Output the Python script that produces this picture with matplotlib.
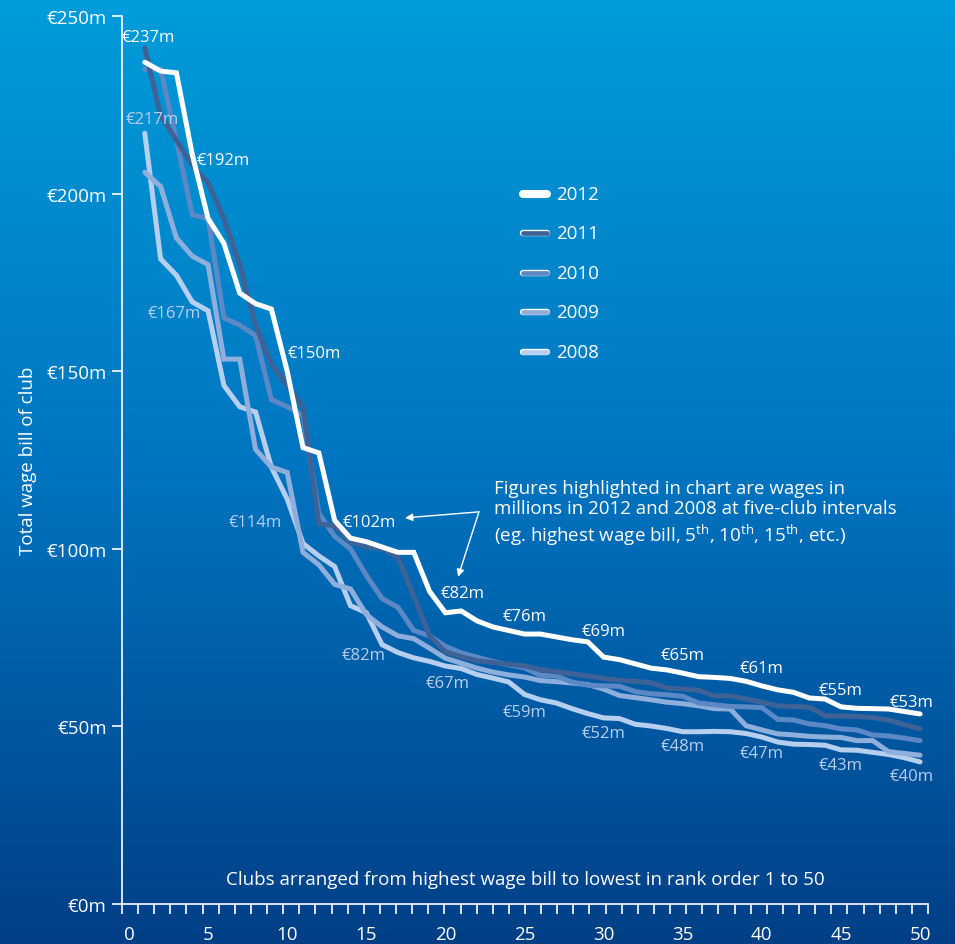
import numpy as np
import matplotlib
matplotlib.use("Agg")
import matplotlib.pyplot as plt
import matplotlib.patheffects as pe
from matplotlib.colors import LinearSegmentedColormap

plt.rcParams['font.family'] = ['Open Sans', 'DejaVu Sans']
plt.rcParams['mathtext.fontset'] = 'custom'
plt.rcParams['mathtext.rm'] = 'Open Sans'

# club rank 1..50, total wage bill in EUR millions
ranks = np.arange(1, 51)
w2012 = [237, 234.5, 234, 211, 193, 186, 172, 169, 167.5, 150,
         128.5, 127, 108, 103, 102, 100.5, 99, 99, 88, 82,
         82.5, 79.7, 78, 77, 76, 76, 75.2, 74.4, 73.8, 69.5,
         68.8, 67.6, 66.4, 65.9, 65, 64, 63.8, 63.5, 62.7, 61.4,
         60.3, 59.6, 58, 57.7, 55.5, 55.1, 55, 54.9, 54.2, 53.5]
w2011 = [241, 222, 215, 208, 203, 193, 180, 163, 152, 146,
         140, 107, 106.5, 102, 100.5, 100, 97.7, 86.7, 75.5, 71,
         69.6, 68.5, 68, 67.5, 67, 66, 65.4, 64.8, 64.2, 63.5,
         63, 62.7, 62.3, 60.8, 60.5, 60.2, 58.6, 58.6, 57.7, 56.8,
         55.8, 55.6, 55.4, 53, 52.9, 52.8, 52.5, 51.8, 50.5, 49.3]
w2010 = [235, 235, 215, 194, 193, 165, 163, 160, 142, 140,
         137.5, 110, 103.5, 100, 92.5, 86, 83.5, 77, 75.5, 72.5,
         70.7, 69.5, 68.3, 67.3, 66.5, 64.4, 64.2, 62.5, 61.6, 61.4,
         61.3, 59.8, 59.2, 58.9, 58.5, 56.6, 56.1, 55.6, 55.5, 55.3,
         52, 51.8, 50.7, 50.2, 49.3, 49, 47.6, 47.3, 46.7, 46]
w2009 = [206, 202, 187.5, 182.4, 180, 153.4, 153.4, 128, 123, 121.5,
         99, 95.5, 90, 88.7, 81.5, 78, 75.5, 74.7, 72, 69.2,
         67.8, 66.4, 65.3, 64.5, 63.9, 62.9, 62.6, 62.2, 61.8, 60.5,
         58.7, 58.1, 57.5, 56.8, 56.4, 55.8, 55, 54.9, 50.2, 49,
         47.9, 47.6, 47.2, 47, 46.9, 46, 46, 42.9, 42.4, 41.9]
w2008 = [217, 181.6, 177, 169.5, 167, 146, 140, 138.5, 123, 114,
         101.5, 98, 95, 84, 82, 73, 70.8, 69.3, 68.3, 67,
         66.3, 64.6, 63.6, 62.5, 59, 57.5, 56.6, 55, 53.6, 52.4,
         52.2, 50.6, 50.1, 49.4, 48.5, 48.5, 48.6, 48.5, 48, 47,
         45.6, 45, 44.9, 44.7, 43.4, 43.3, 42.7, 42.1, 41.2, 40]

years = ['2012', '2011', '2010', '2009', '2008']
series = [w2012, w2011, w2010, w2009, w2008]
colors = ['#ffffff', '#3e6296', '#5c88c6', '#8eaedc', '#b7cfee']

label_ranks = [1, 5, 10, 15, 20, 25, 30, 35, 40, 45, 50]
labels_2012 = ['€237m', '€192m', '€150m', '€102m', '€82m', '€76m',
               '€69m', '€65m', '€61m', '€55m', '€53m']
labels_2008 = ['€217m', '€167m', '€114m', '€82m', '€67m', '€59m',
               '€52m', '€48m', '€47m', '€43m', '€40m']
# label offsets from the point, in pixels
off_2012 = [(4, 25), (15, 58), (27, 18), (3, 20), (17, 20), (0, 18),
            (0, 26), (0, 18), (0, 18), (0, 17), (-9, 12)]
off_2008 = [(7, 14), (-34, -2), (-32, -23), (-3, -42), (2, -17), (0, -18),
            (0, -15), (0, -14), (0, -16), (0, -15), (-8, -14)]

fig = plt.figure(figsize=(9.55, 9.45), dpi=100)

# gradient background
bg = fig.add_axes([0, 0, 1, 1], zorder=-10)
cmap = LinearSegmentedColormap.from_list('bg', ['#009cda', '#0074c0', '#003f86'])
bg.imshow(np.linspace(0, 1, 256).reshape(-1, 1), cmap=cmap, aspect='auto',
          extent=[0, 1, 0, 1])
bg.axis('off')

ax = fig.add_axes([122 / 955, 1 - 905 / 945, 806 / 955, 888 / 945])
ax.set_facecolor('none')

for yr, vals, c in reversed(list(zip(years, series, colors))):
    ax.plot(ranks, vals, color=c, lw=3.6, solid_joinstyle='miter',
            solid_capstyle='round', zorder=3)

xmin, xmax = -0.44, 50.5
ax.set_xlim(xmin, xmax)
ax.set_ylim(0, 250)

for s in ['top', 'right']:
    ax.spines[s].set_visible(False)
for s in ['left', 'bottom']:
    ax.spines[s].set_color('white')
    ax.spines[s].set_linewidth(1.2)

ax.set_yticks(range(0, 251, 50))
ax.set_yticklabels([f'€{v}m' for v in range(0, 251, 50)])
ax.tick_params(axis='y', colors='white', length=7, width=1.2, pad=4,
               labelsize=13.5)
ax.set_xticks(range(0, 51, 5))
ax.set_xticks(np.linspace(xmin, xmax, 51), minor=True)
ax.tick_params(axis='x', which='major', length=0, pad=15, colors='white',
               labelsize=13.5)
ax.tick_params(axis='x', which='minor', length=7, width=1.2, color='white')

ax.set_ylabel('Total wage bill of club', color='white', fontsize=13.5)
ax.yaxis.set_label_coords(-0.105, 0.5)
ax.text(0.5, 0.028, 'Clubs arranged from highest wage bill to lowest in rank order 1 to 50',
        transform=ax.transAxes, ha='center', va='center', color='white', fontsize=13.5)

# value labels
for r, t, (dx, dy) in zip(label_ranks, labels_2012, off_2012):
    ax.annotate(t, (r, w2012[r - 1]), xytext=(dx, dy), textcoords='offset pixels',
                ha='center', va='center', color='white', fontsize=12, zorder=5)
for r, t, (dx, dy) in zip(label_ranks, labels_2008, off_2008):
    ax.annotate(t, (r, w2008[r - 1]), xytext=(dx, dy), textcoords='offset pixels',
                ha='center', va='center', color=colors[4], fontsize=12, zorder=5)

# legend
for i, (yr, c) in enumerate(zip(years, colors)):
    y = 0.7995 - i * 0.0444
    lw = 4.6 if i == 0 else 3.4
    ax.plot([0.4975, 0.5275], [y, y], transform=ax.transAxes, color=c, lw=lw,
            solid_capstyle='round', clip_on=False, zorder=4,
            path_effects=[pe.Stroke(linewidth=lw + 1.2, foreground='white'), pe.Normal()])
    ax.text(0.5385, y, yr, transform=ax.transAxes, va='center', ha='left',
            color='white', fontsize=13.5)

# note with arrows
note = ('Figures highlighted in chart are wages in\n'
        'millions in 2012 and 2008 at five-club intervals\n'
        r'(eg. highest wage bill, 5$^{\mathrm{th}}$, 10$^{\mathrm{th}}$, 15$^{\mathrm{th}}$, etc.)')
ax.text(0.4615, 0.479, note, transform=ax.transAxes, va='top', ha='left',
        color='white', fontsize=13.5, linespacing=1.2)
vertex = (22.12, 110.4)
for head in [(17.45, 108.7), (20.8, 92.1)]:
    ax.annotate('', xy=head, xytext=vertex,
                arrowprops=dict(arrowstyle='-|>', color='white', lw=1,
                                mutation_scale=11, shrinkA=0, shrinkB=0))

fig.savefig('out.png', dpi=100)
